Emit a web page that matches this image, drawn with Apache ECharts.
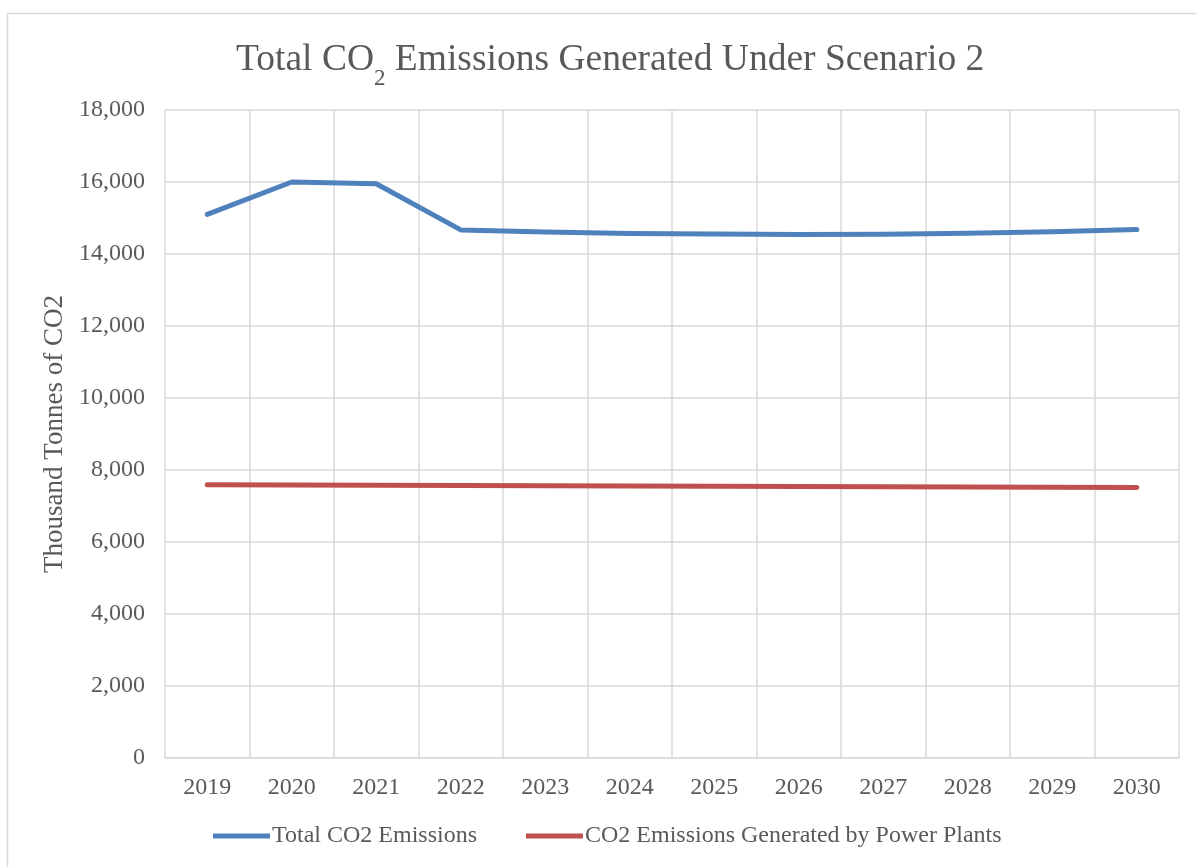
<!DOCTYPE html>
<html>
<head>
<meta charset="utf-8">
<title>Total CO2 Emissions Generated Under Scenario 2</title>
<script src="https://cdn.jsdelivr.net/npm/echarts@6/dist/echarts.min.js"></script>
<style>
  html, body { margin: 0; padding: 0; background: #ffffff; }
  #chart { width: 1196px; height: 867px; }
</style>
</head>
<body>
<div id="chart"></div>
<script>
// Years on the category axis
const years = ['2019', '2020', '2021', '2022', '2023', '2024', '2025', '2026', '2027', '2028', '2029', '2030'];
// Thousand tonnes of CO2
const totalEmissions = [15100, 16000, 15950, 14670, 14610, 14570, 14555, 14545, 14550, 14575, 14615, 14680];
const powerPlantEmissions = [7590, 7580, 7575, 7570, 7565, 7558, 7550, 7545, 7538, 7530, 7522, 7515];
const seriesNames = ['Total CO2 Emissions', 'CO2 Emissions Generated by Power Plants'];
const yTicks = { min: 0, max: 18000, interval: 2000 };

const FONT = '"Liberation Serif", "Times New Roman", serif';
const TEXT = '#595959';
const GRID = '#d9d9d9';

const chart = echarts.init(document.getElementById('chart'), null, { renderer: 'canvas' });

chart.setOption({
  backgroundColor: '#ffffff',
  animation: false,
  graphic: [{
    type: 'rect',
    shape: { x: 7.5, y: 13.5, width: 1300, height: 1000 },
    style: { fill: 'none', stroke: GRID, lineWidth: 1.5 },
    silent: true
  }],
  title: {
    text: '{a|Total CO}{s|2}{a| Emissions Generated Under Scenario 2}',
    left: 236,
    top: 41,
    padding: 0,
    textStyle: {
      fontWeight: 'normal',
      rich: {
        a: { fontFamily: FONT, fontSize: 37.5, fontWeight: 'normal', color: TEXT, lineHeight: 42, verticalAlign: 'top' },
        s: { fontFamily: FONT, fontSize: 23, fontWeight: 'normal', color: TEXT, lineHeight: 22, verticalAlign: 'top', padding: [26, 0, 0, 0] }
      }
    }
  },
  legend: {
    data: seriesNames,
    left: 213,
    top: 824,
    icon: 'rect',
    itemWidth: 57,
    itemHeight: 5,
    itemGap: 49,
    padding: 0,
    textStyle: { fontFamily: FONT, fontSize: 24, color: TEXT, padding: [0, 0, 0, -3] }
  },
  grid: { left: 165, right: 17, top: 110, bottom: 109, containLabel: false },
  xAxis: {
    type: 'category',
    data: years,
    boundaryGap: true,
    axisLine: { show: true, lineStyle: { color: GRID, width: 1.5 } },
    axisTick: { show: false },
    axisLabel: { fontFamily: FONT, fontSize: 24, color: TEXT, margin: 18 },
    splitLine: { show: true, lineStyle: { color: GRID, width: 1.5 } }
  },
  yAxis: {
    type: 'value',
    min: yTicks.min,
    max: yTicks.max,
    interval: yTicks.interval,
    name: 'Thousand Tonnes of CO2',
    nameLocation: 'middle',
    nameGap: 91,
    nameTextStyle: { fontFamily: FONT, fontSize: 27, color: TEXT },
    axisLine: { show: false },
    axisTick: { show: false },
    axisLabel: {
      fontFamily: FONT, fontSize: 24, color: TEXT, margin: 20,
      formatter: v => v.toLocaleString('en-US')
    },
    splitLine: { show: true, lineStyle: { color: GRID, width: 1.5 } }
  },
  series: [
    {
      name: seriesNames[0],
      type: 'line',
      data: totalEmissions,
      showSymbol: false,
      symbol: 'none',
      color: '#4F81BD',
      lineStyle: { width: 5, color: '#4F81BD', cap: 'round', join: 'round' }
    },
    {
      name: seriesNames[1],
      type: 'line',
      data: powerPlantEmissions,
      showSymbol: false,
      symbol: 'none',
      color: '#C0504D',
      lineStyle: { width: 5, color: '#C0504D', cap: 'round', join: 'round' }
    }
  ]
});
</script>
</body>
</html>
